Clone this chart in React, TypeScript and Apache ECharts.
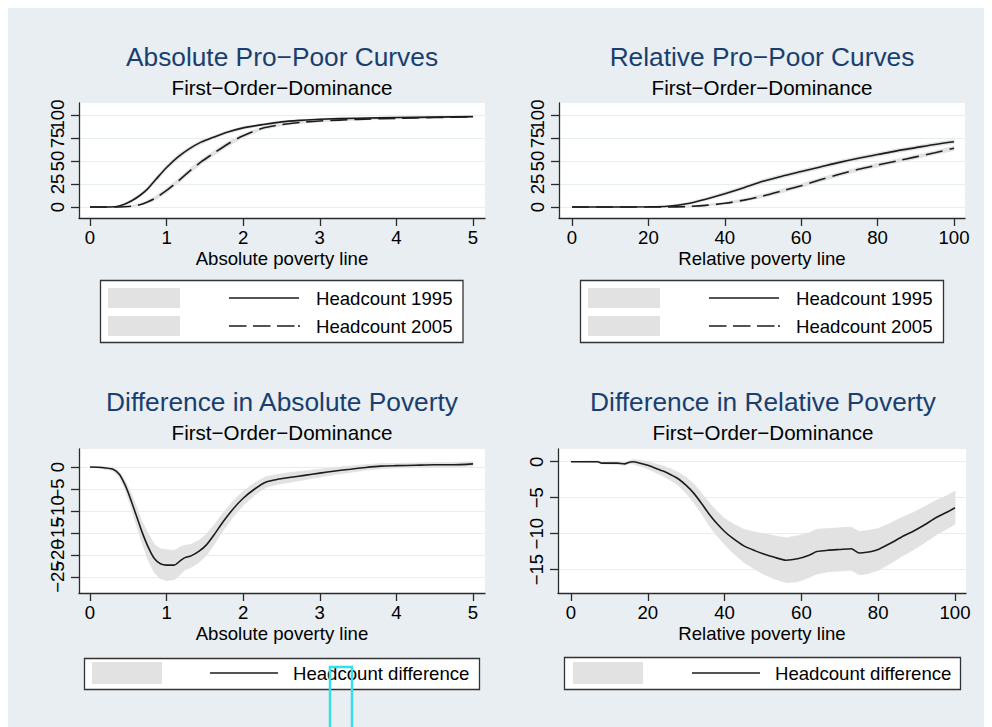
import React, { useEffect, useRef } from 'react';
import * as echarts from 'echarts';

// ---------- Data ----------
const absX = [0, 0.2, 0.35, 0.45, 0.55, 0.65, 0.75, 0.85, 1.0, 1.15, 1.3, 1.45, 1.6, 1.8, 2.0, 2.25, 2.5, 2.75, 3.0, 3.5, 4.0, 4.5, 5.0];
const abs1995 = [0, 0, 0.5, 3, 7, 12.5, 19.5, 29, 43, 54.5, 63.5, 70.5, 75.5, 81.5, 86, 89.5, 92.5, 94.2, 95.4, 96.5, 97.2, 97.7, 98.2];
const abs1995Lo = [0, 0, 0, 2, 5.5, 11, 17.5, 26.5, 40.5, 52, 61.5, 68.5, 74, 80, 84.5, 88.5, 91.5, 93.4, 94.7, 95.9, 96.7, 97.2, 97.7];
const abs1995Hi = [0, 0, 1, 4, 8.5, 14, 21.5, 31.5, 45.5, 57, 65.5, 72.5, 77, 83, 87.5, 90.5, 93.5, 95, 96.1, 97.1, 97.7, 98.2, 98.7];
const abs2005 = [0, 0, 0, 0.3, 1, 2.5, 5.5, 9.5, 18, 28, 39, 49, 57.5, 68.5, 77.5, 85.5, 89.5, 92, 93.5, 95.2, 96.4, 97.3, 98];
const abs2005Lo = [0, 0, 0, 0, 0.3, 1.5, 4, 7.5, 15.5, 25.5, 36.5, 46.5, 55, 66, 75.5, 84, 88.3, 91, 92.6, 94.5, 95.8, 96.8, 97.4];
const abs2005Hi = [0, 0, 0, 0.8, 1.7, 3.5, 7, 11.5, 20.5, 30.5, 41.5, 51.5, 60, 71, 79.5, 87, 90.7, 93, 94.4, 95.9, 97, 97.8, 98.6];

const relX = [0, 10, 20, 25, 30, 35, 40, 45, 50, 55, 60, 65, 70, 75, 80, 85, 90, 95, 100];
const rel1995 = [0, 0, 0.2, 0.8, 3.5, 8.5, 14.5, 21, 28, 33.5, 38.5, 43.5, 48.5, 53, 57, 61, 64.5, 68, 71];
const rel1995Lo = [0, 0, 0, 0.4, 2.3, 7, 12.7, 19, 26, 31.5, 36.5, 41.5, 46.5, 51, 55, 59, 62.5, 66, 69];
const rel1995Hi = [0, 0, 0.5, 1.3, 4.7, 10, 16.3, 23, 30, 35.5, 40.5, 45.5, 50.5, 55, 59, 63, 66.5, 70, 73];
const rel2005 = [0, 0, 0, 0, 0.5, 1.8, 4, 7.5, 12, 17.5, 23.2, 29.5, 35.5, 41, 45.6, 50, 54.5, 59, 63.8];
const rel2005Lo = [0, 0, 0, 0, 0.1, 1, 2.8, 6, 10.2, 15.5, 21.2, 27.5, 33.5, 39, 43.6, 48, 52.5, 57, 61.5];
const rel2005Hi = [0, 0, 0, 0.2, 0.9, 2.6, 5.2, 9, 13.8, 19.5, 25.2, 31.5, 37.5, 43, 47.6, 52, 56.5, 61, 66];

const dAbsX = [0, 0.15, 0.3, 0.38, 0.45, 0.52, 0.6, 0.68, 0.76, 0.84, 0.92, 1.0, 1.1, 1.18, 1.24, 1.32, 1.42, 1.52, 1.62, 1.74, 1.86, 2.0, 2.15, 2.3, 2.45, 2.6, 2.8, 3.0, 3.2, 3.4, 3.6, 3.8, 4.0, 4.25, 4.5, 4.75, 5.0];
const dAbs = [0, -0.1, -0.5, -1.6, -3.8, -6.8, -10.8, -14.8, -18.2, -20.8, -22.0, -22.3, -22.3, -21.3, -20.6, -20.2, -19.2, -17.7, -15.4, -12.4, -9.7, -7.1, -5.0, -3.4, -2.8, -2.4, -1.9, -1.4, -0.9, -0.5, -0.1, 0.2, 0.3, 0.4, 0.5, 0.5, 0.7];
const dAbsLo = [0, -0.3, -0.9, -2.2, -4.8, -8.3, -12.8, -17.2, -21.2, -24.0, -25.4, -25.8, -25.6, -24.4, -23.4, -22.8, -21.7, -20.1, -17.6, -14.4, -11.5, -8.7, -6.4, -4.6, -3.9, -3.5, -2.9, -2.3, -1.7, -1.2, -0.7, -0.4, -0.2, -0.1, 0.0, 0.0, 0.2];
const dAbsHi = [0, 0.1, -0.1, -1.0, -2.8, -5.3, -8.8, -12.4, -15.2, -17.6, -18.6, -18.8, -19.0, -18.2, -17.8, -17.6, -16.7, -15.3, -13.2, -10.4, -7.9, -5.5, -3.6, -2.2, -1.7, -1.3, -0.9, -0.5, -0.1, 0.2, 0.5, 0.8, 0.8, 0.9, 1.0, 1.0, 1.2];

const dRelX = [0, 5, 7, 8, 12, 14, 15, 16, 18, 20, 22, 24, 26, 28, 30, 32, 34, 36, 38, 40, 42, 45, 48, 50, 53, 56, 59, 62, 64, 67, 70, 73, 75, 77, 80, 83, 86, 89, 92, 95, 98, 100];
const dRel = [0, 0, 0, -0.2, -0.2, -0.3, -0.1, 0, -0.2, -0.5, -0.9, -1.3, -1.8, -2.4, -3.3, -4.4, -5.8, -7.3, -8.6, -9.7, -10.6, -11.7, -12.4, -12.8, -13.3, -13.7, -13.5, -13.0, -12.5, -12.3, -12.2, -12.1, -12.7, -12.6, -12.2, -11.4, -10.5, -9.7, -8.8, -7.8, -7.0, -6.4];
const dRelLo = [0, -0.1, -0.1, -0.3, -0.4, -0.5, -0.3, -0.3, -0.6, -1.0, -1.5, -2.0, -2.6, -3.3, -4.4, -5.7, -7.2, -8.9, -10.3, -11.5, -12.6, -14.0, -15.0, -15.6, -16.3, -16.8, -16.7, -16.1, -15.6, -15.3, -15.2, -15.1, -15.7, -15.6, -15.1, -14.2, -13.2, -12.3, -11.3, -10.2, -9.3, -8.7];
const dRelHi = [0, 0.1, 0.1, -0.1, 0.0, -0.1, 0.1, 0.3, 0.2, 0.0, -0.3, -0.6, -1.0, -1.5, -2.2, -3.1, -4.4, -5.7, -6.9, -7.9, -8.6, -9.4, -9.8, -10.0, -10.3, -10.6, -10.3, -9.9, -9.4, -9.3, -9.2, -9.1, -9.7, -9.6, -9.3, -8.6, -7.8, -7.1, -6.3, -5.4, -4.7, -4.1];

// tick values and labels (labels that overlap are split over two label rows sharing one axis)
const absTicks = [0, 1, 2, 3, 4, 5];
const relTicks = [0, 20, 40, 60, 80, 100];
const levelTicks = [0, 25, 50, 75, 100];
const levelLabelsA = [0, 50, 100];
const levelLabelsB = [25, 75];
const dAbsTicks = [-25, -20, -15, -10, -5, 0];
const dAbsLabelsA = [-25, -15, -5];
const dAbsLabelsB = [-20, -10, 0];
const dRelTicks = [-15, -10, -5, 0];

// texts
const titles = ['Absolute Pro\u2212Poor Curves', 'Relative Pro\u2212Poor Curves', 'Difference in Absolute Poverty', 'Difference in Relative Poverty'];
const subtitle = 'First\u2212Order\u2212Dominance';
const xNames = ['Absolute poverty line', 'Relative poverty line'];

// ---------- Styles ----------
const FONT = "'Liberation Sans', Arial, Helvetica, sans-serif";
const BG = '#e8eef1';
const AXIS = '#2b2b2b';
const GRIDC = '#e6eef1';
const BAND = '#e2e2e2';
const LINE = '#1c1c1c';
const TITLEC = '#1a3f6e';
const FS = 18.6;

const fmt = (v: number) => (v < 0 ? '\u2212' + Math.abs(v) : String(v));
const pairs = (xs: number[], ys: number[]) => xs.map((x, i) => [x, ys[i]]);

function xAxisOpt(gi: number, min: number, max: number, ticks: number[], name: string) {
  return {
    type: 'value', gridIndex: gi, min, max,
    axisLine: { show: true, onZero: false, lineStyle: { color: AXIS, width: 1.3 } },
    axisTick: { show: true, length: 8, customValues: ticks, lineStyle: { color: AXIS, width: 1.3 } },
    axisLabel: { customValues: ticks, fontSize: FS, color: '#000', fontFamily: FONT, margin: 10, showMinLabel: true, showMaxLabel: true },
    splitLine: { show: false },
    name, nameLocation: 'middle', nameGap: 31,
    nameTextStyle: { fontSize: FS, color: '#000', fontFamily: FONT },
  };
}
function yAxisOpt(gi: number, min: number, max: number, ticks: number[], labels: number[]) {
  return {
    type: 'value', gridIndex: gi, min, max, position: 'left',
    axisLine: { show: true, onZero: false, lineStyle: { color: AXIS, width: 1.3 } },
    axisTick: { show: true, length: 8, customValues: ticks, lineStyle: { color: AXIS, width: 1.3 } },
    axisLabel: {
      customValues: labels, rotate: 90, fontSize: FS, color: '#000', fontFamily: FONT, margin: 12,
      formatter: fmt, showMinLabel: true, showMaxLabel: true,
    },
    splitLine: { show: true, lineStyle: { color: GRIDC, width: 1.2 } },
  };
}
// a second, label-only axis on the same side carrying the labels that would collide with their neighbours
function yLabelAxisOpt(gi: number, min: number, max: number, labels: number[]) {
  return {
    type: 'value', gridIndex: gi, min, max, position: 'left', offset: 0,
    axisLine: { show: false, onZero: false },
    axisTick: { show: false },
    axisLabel: {
      customValues: labels, rotate: 90, fontSize: FS, color: '#000', fontFamily: FONT, margin: 12,
      formatter: fmt, showMinLabel: true, showMaxLabel: true,
    },
    splitLine: { show: false },
  };
}

// confidence band: a polygon between the lower and upper bounds, placed with the axes' own scales
function band(gi: number, name: string, xs: number[], lo: number[], hi: number[]) {
  return {
    name, type: 'custom', xAxisIndex: gi, yAxisIndex: gi, silent: true, z: 1, color: BAND,
    itemStyle: { color: BAND },
    data: xs.map((x, i) => [x, lo[i], hi[i]]),
    encode: { x: 0, y: [1, 2] },
    renderItem: (params: any, api: any) => {
      if (params.dataIndex !== 0) return null;
      const top = xs.map((x, i) => api.coord([x, hi[i]]));
      const bot = xs.map((x, i) => api.coord([x, lo[i]])).reverse();
      return {
        type: 'polygon',
        shape: { points: top.concat(bot) },
        style: { fill: BAND, stroke: BAND, lineWidth: 0.8 },
      };
    },
  };
}
function curve(gi: number, name: string, xs: number[], ys: number[], dashed: boolean, smooth: number | boolean) {
  return {
    name, type: 'line', xAxisIndex: gi, yAxisIndex: gi, data: pairs(xs, ys),
    symbol: 'none', smooth, silent: true, color: LINE,
    lineStyle: { color: LINE, width: 1.6, type: dashed ? [17, 7] : 'solid' }, z: 5,
  };
}

const SOLID_ICON = 'path://M0,0L0.01,0M82,20L81.99,20M0,9.25H70V10.75H0Z';
const DASH_ICON = 'path://M0,0L0.01,0M82,20L81.99,20M0,9.25H17.5V10.75H0ZM24,9.25H41.5V10.75H24ZM48,9.25H65.5V10.75H48ZM69,9.25H71V10.75H69Z';
const DIFF_ICON = 'path://M0,0L0.01,0M78,22L77.99,22M0,10.25H68V11.75H0Z';

function swatchLegend(left: number, top: number, names: string[], w: number, h: number, gap: number) {
  return {
    left, top, orient: 'vertical', padding: 0, itemGap: gap, itemWidth: w, itemHeight: h,
    selectedMode: false, icon: 'rect', formatter: () => '', z: 5,
    itemStyle: { borderWidth: 0 },
    textStyle: { fontSize: FS, lineHeight: h, fontFamily: FONT },
    data: names.map((n) => ({ name: n, icon: 'rect', itemStyle: { color: BAND, borderWidth: 0 } })),
  };
}
function lineLegend(left: number, top: number, items: { name: string; icon: string }[], w: number, h: number, gap: number) {
  return {
    left, top, orient: 'vertical', padding: 0, itemGap: gap, itemWidth: w, itemHeight: h,
    selectedMode: false, z: 5, symbolKeepAspect: false,
    itemStyle: { borderWidth: 0 },
    textStyle: { fontSize: FS, lineHeight: h, color: '#000', fontFamily: FONT },
    data: items.map((it) => ({ name: it.name, icon: it.icon, itemStyle: { color: LINE, borderWidth: 0 } })),
  };
}

function textEl(x: number, y: number, text: string, size: number, color: string) {
  return {
    type: 'text', x, y, z: 10,
    style: { text, fontSize: size, fontFamily: FONT, fill: color, align: 'center', verticalAlign: 'middle' },
  };
}
function boxEl(x: number, y: number, w: number, h: number) {
  return {
    type: 'rect', z: 1, shape: { x, y, width: w, height: h },
    style: { fill: '#ffffff', stroke: '#333333', lineWidth: 1.3 },
  };
}

function buildOption() {
  return {
    animation: false,
    backgroundColor: BG,
    grid: [
      { left: 71, top: 95, width: 406, height: 115, show: true, backgroundColor: '#fff', borderWidth: 0 },
      { left: 551, top: 95, width: 406, height: 115, show: true, backgroundColor: '#fff', borderWidth: 0 },
      { left: 71, top: 441, width: 406, height: 144, show: true, backgroundColor: '#fff', borderWidth: 0 },
      { left: 550, top: 441, width: 408, height: 144, show: true, backgroundColor: '#fff', borderWidth: 0 },
    ],
    xAxis: [
      xAxisOpt(0, -0.1436, 5.157, absTicks, xNames[0]),
      xAxisOpt(1, -3.40, 102.88, relTicks, xNames[1]),
      xAxisOpt(2, -0.1436, 5.157, absTicks, xNames[0]),
      xAxisOpt(3, -3.385, 102.86, relTicks, xNames[1]),
    ],
    yAxis: [
      yAxisOpt(0, -11.96, 113.04, levelTicks, levelLabelsA),
      yAxisOpt(1, -11.96, 113.04, levelTicks, levelLabelsA),
      yAxisOpt(2, -28.64, 4.09, dAbsTicks, dAbsLabelsA),
      yAxisOpt(3, -18.26, 1.77, dRelTicks, dRelTicks),
      yLabelAxisOpt(0, -11.96, 113.04, levelLabelsB),
      yLabelAxisOpt(1, -11.96, 113.04, levelLabelsB),
      yLabelAxisOpt(2, -28.64, 4.09, dAbsLabelsB),
    ],
    legend: [
      swatchLegend(100, 280, ['CI 1995', 'CI 2005'], 72, 20, 8),
      lineLegend(221, 280, [{ name: 'Headcount 1995', icon: SOLID_ICON }, { name: 'Headcount 2005', icon: DASH_ICON }], 82, 20, 8),
      swatchLegend(580, 280, ['CI 1995', 'CI 2005'], 72, 20, 8),
      lineLegend(701, 280, [{ name: 'Headcount 1995', icon: SOLID_ICON }, { name: 'Headcount 2005', icon: DASH_ICON }], 82, 20, 8),
      swatchLegend(84, 654, ['CI difference'], 70, 22, 8),
      lineLegend(202, 654, [{ name: 'Headcount difference', icon: DIFF_ICON }], 78, 22, 8),
      swatchLegend(565, 654, ['CI difference'], 70, 22, 8),
      lineLegend(684, 654, [{ name: 'Headcount difference', icon: DIFF_ICON }], 78, 22, 8),
    ],
    graphic: [
      textEl(274, 49, titles[0], 26.3, TITLEC),
      textEl(274, 79, subtitle, 20.6, '#000'),
      textEl(754, 49, titles[1], 26.3, TITLEC),
      textEl(754, 79, subtitle, 20.6, '#000'),
      textEl(274, 394, titles[2], 26.3, TITLEC),
      textEl(274, 424, subtitle, 20.6, '#000'),
      textEl(755, 394, titles[3], 26.3, TITLEC),
      textEl(755, 424, subtitle, 20.6, '#000'),
      boxEl(92.5, 272.5, 362.5, 62),
      boxEl(572.5, 272.5, 363, 62),
      boxEl(76.5, 650.5, 395, 31),
      boxEl(556.5, 649.5, 396, 32),
      {
        type: 'rect', z: 100, shape: { x: 322, y: 659, width: 22, height: 80 },
        style: { fill: 'none', stroke: '#33e0ee', lineWidth: 2.5 },
      },
    ],
    series: [
      band(0, 'CI 1995', absX, abs1995Lo, abs1995Hi),
      band(0, 'CI 2005', absX, abs2005Lo, abs2005Hi),
      band(1, 'CI 1995', relX, rel1995Lo, rel1995Hi),
      band(1, 'CI 2005', relX, rel2005Lo, rel2005Hi),
      band(2, 'CI difference', dAbsX, dAbsLo, dAbsHi),
      band(3, 'CI difference', dRelX, dRelLo, dRelHi),
      curve(0, 'Headcount 1995', absX, abs1995, false, 0.3),
      curve(0, 'Headcount 2005', absX, abs2005, true, 0.3),
      curve(1, 'Headcount 1995', relX, rel1995, false, 0.3),
      curve(1, 'Headcount 2005', relX, rel2005, true, 0.3),
      curve(2, 'Headcount difference', dAbsX, dAbs, false, 0.2),
      curve(3, 'Headcount difference', dRelX, dRel, false, 0.2),
    ],
  };
}

export default function App() {
  const ref = useRef<HTMLDivElement>(null);
  useEffect(() => {
    if (!ref.current) return;
    const chart = echarts.init(ref.current, null, { renderer: 'svg' });
    chart.setOption(buildOption() as any);
    return () => chart.dispose();
  }, []);
  return <div ref={ref} style={{ position: 'absolute', left: 8, top: 8, width: 976, height: 719 }} />;
}
